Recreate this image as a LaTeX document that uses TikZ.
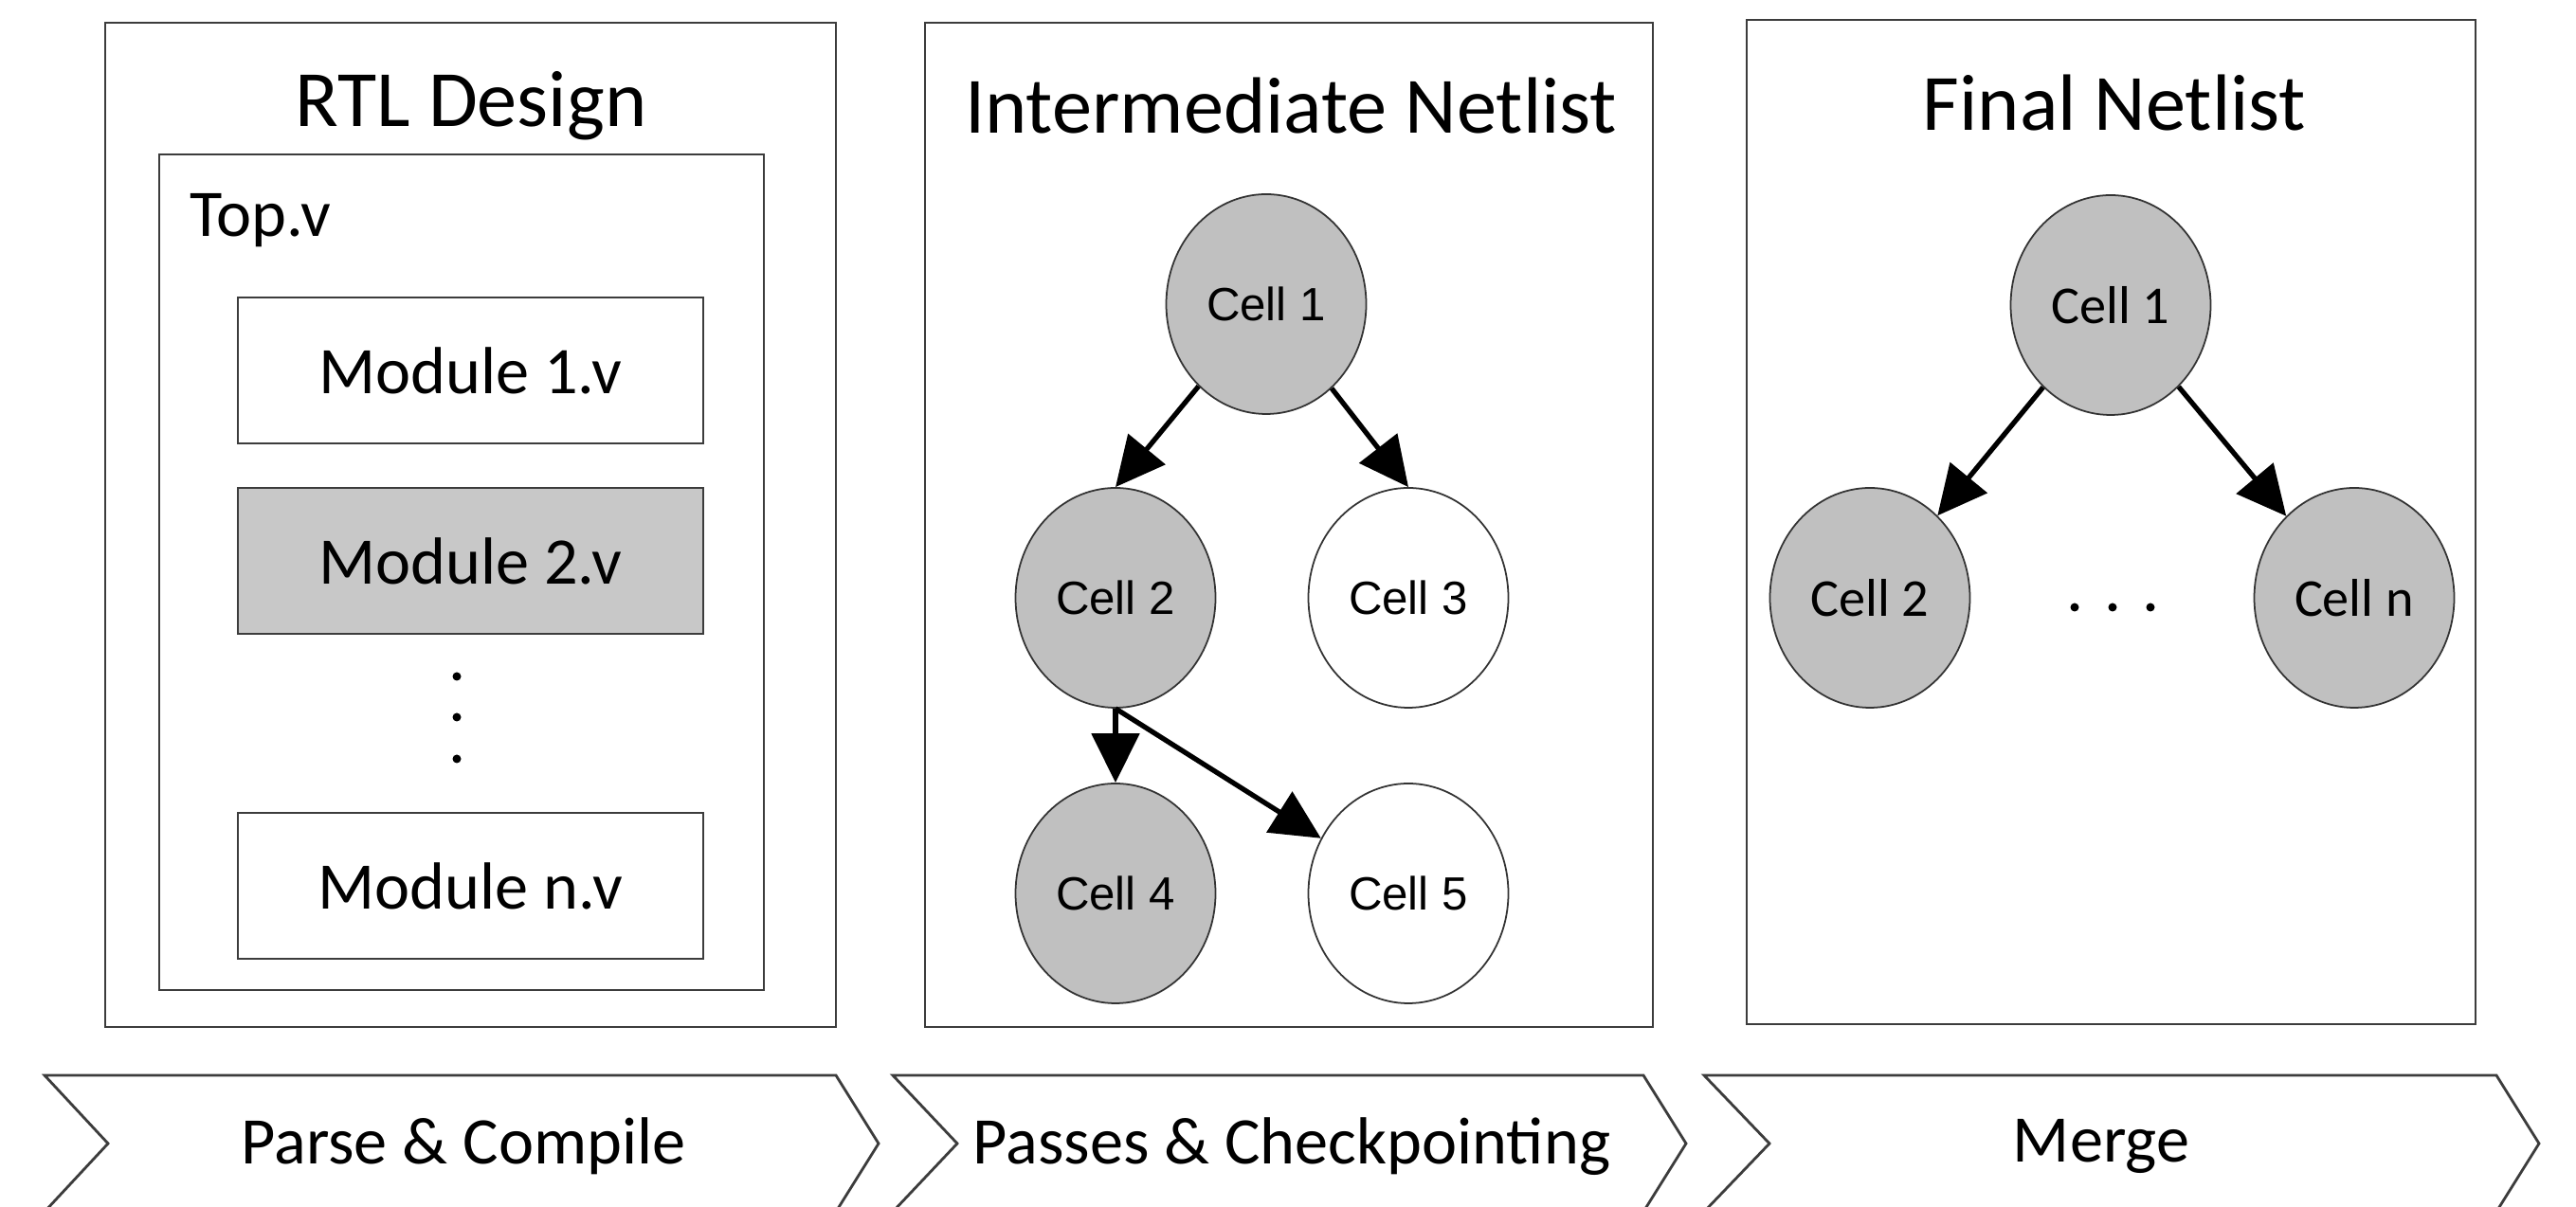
\documentclass[tikz,border=0pt]{standalone}
\usepackage{fontspec}
\setmainfont{Carlito}
\newfontfamily\cellfont{Liberation Sans}
\usetikzlibrary{shapes.geometric,arrows.meta}

\definecolor{cellgray}{RGB}{192,192,192}
\definecolor{modgray}{RGB}{200,200,200}
\definecolor{linegray}{RGB}{60,60,60}

\tikzset{
	panel/.style={draw=linegray, line width=0.8pt},
	title/.style={font=\fontsize{24}{28}\selectfont},
	module/.style={draw=linegray, line width=0.8pt, minimum width=4.91cm, minimum height=1.54cm, inner sep=0pt, font=\fontsize{20}{24}\selectfont},
	cell/.style={ellipse, draw=black!80, line width=0.5pt, minimum width=2.11cm, minimum height=2.32cm, inner sep=0pt},
	cellA/.style={cell, font=\cellfont\fontsize{14}{17}\selectfont},
	cellB/.style={cell, font=\fontsize{16}{19}\selectfont},
	link/.style={-{Triangle[length=5.2mm, width=5mm]}, line width=1.5pt},
	stage/.style={draw=linegray, line width=0.8pt},
	stagetext/.style={font=\fontsize{20}{24}\selectfont}
}

\begin{document}
\begin{tikzpicture}
	\clip (0,0) rectangle (27.18,-12.74);
	
	% panels
	\draw[panel] (1.11,-0.24) rectangle (8.82,-10.84);
	\draw[panel] (9.76,-0.24) rectangle (17.44,-10.84);
	\draw[panel] (18.43,-0.21) rectangle (26.12,-10.81);
	
	\node[title] (rtl) at (4.97,-1.12) {RTL Design};
	\node[title] (inter) at (13.62,-1.12) {Intermediate Netlist};
	\node[title] (final) at (22.31,-1.09) {Final Netlist};
	
	% RTL design
	\draw[panel] (1.68,-1.63) rectangle (8.06,-10.45);
	\node[anchor=base west, font=\fontsize{20}{24}\selectfont] (top) at (1.88,-2.5) {Top.v};
	
	\node[module] (m1) at (4.965,-3.91) {Module 1.v};
	\node[module, fill=modgray] (m2) at (4.965,-5.92) {Module 2.v};
	\node[module] (mn) at (4.965,-9.35) {Module n.v};
	
	\fill (4.82,-7.14) circle (0.045);
	\fill (4.82,-7.57) circle (0.045);
	\fill (4.82,-8.01) circle (0.045);
	
	% intermediate netlist
	\node[cellA, fill=cellgray] (c1) at (13.36,-3.21) {Cell 1};
	\node[cellA, fill=cellgray] (c2) at (11.77,-6.31) {Cell 2};
	\node[cellA, fill=white] (c3) at (14.86,-6.31) {Cell 3};
	\node[cellA, fill=cellgray] (c4) at (11.77,-9.43) {Cell 4};
	\node[cellA, fill=white] (c5) at (14.86,-9.43) {Cell 5};
	
	\draw[link] (c1) -- (c2.north);
	\draw[link] (c1) -- (c3.north);
	\draw[link] (c2.south) -- (c4.north);
	\draw[link] (c2.south) -- (c5);
	
	% final netlist
	\node[cellB, fill=cellgray] (f1) at (22.27,-3.22) {Cell 1};
	\node[cellB, fill=cellgray] (f2) at (19.73,-6.31) {Cell 2};
	\node[cellB, fill=cellgray] (fn) at (24.84,-6.31) {Cell n};
	
	\draw[link] (f1) -- (f2);
	\draw[link] (f1) -- (fn);
	
	\fill (21.89,-6.41) circle (0.045);
	\fill (22.29,-6.41) circle (0.045);
	\fill (22.69,-6.41) circle (0.045);
	
	% stages
	\draw[stage] (0.47,-11.35) -- (8.82,-11.35) -- (9.27,-12.07) -- (8.82,-12.79) -- (0.47,-12.79) -- (1.14,-12.07) -- cycle;
	\draw[stage] (9.42,-11.35) -- (17.34,-11.35) -- (17.79,-12.07) -- (17.34,-12.79) -- (9.42,-12.79) -- (10.10,-12.07) -- cycle;
	\draw[stage] (17.98,-11.35) -- (26.34,-11.35) -- (26.79,-12.07) -- (26.34,-12.79) -- (17.98,-12.79) -- (18.67,-12.07) -- cycle;
	
	\node[stagetext] (parse) at (4.89,-12.1) {Parse \& Compile};
	\node[stagetext] (passes) at (13.63,-12.1) {Passes \& Checkpointing};
	\node[stagetext] (merge) at (22.17,-12.1) {Merge};
\end{tikzpicture}
\end{document}
